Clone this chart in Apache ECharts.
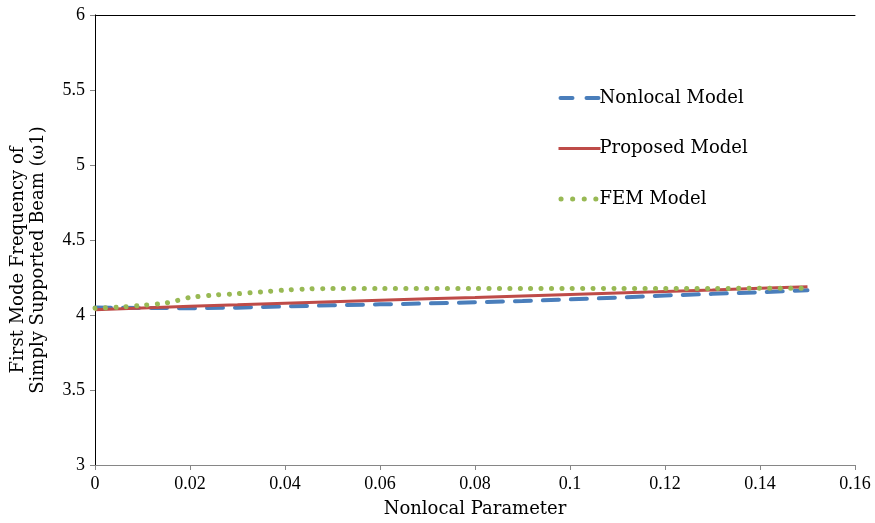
<!DOCTYPE html>
<html><head><meta charset="utf-8">
<script src="https://cdn.jsdelivr.net/npm/echarts@6/dist/echarts.min.js"></script>
<style>html,body{margin:0;padding:0;background:#fff}#c{width:875px;height:523px}</style>
</head><body><div id="c"></div>
<script>
const seriesNames = ['Nonlocal Model', 'Proposed Model', 'FEM Model'];
const xTicks = [0, 0.02, 0.04, 0.06, 0.08, 0.1, 0.12, 0.14, 0.16];
const nonlocalX = [0, 0.01, 0.02, 0.03, 0.04, 0.05, 0.06, 0.07, 0.08, 0.09, 0.1, 0.11, 0.12, 0.13, 0.14, 0.15];
const nonlocalY = [4.05, 4.047, 4.045, 4.049, 4.057, 4.065, 4.071, 4.077, 4.085, 4.093, 4.104, 4.116, 4.13, 4.141, 4.152, 4.165];
const proposedX = [0, 0.01, 0.02, 0.03, 0.04, 0.05, 0.06, 0.07, 0.08, 0.09, 0.1, 0.11, 0.12, 0.13, 0.14, 0.15];
const proposedY = [4.035, 4.047, 4.058, 4.068, 4.079, 4.089, 4.099, 4.108, 4.117, 4.127, 4.137, 4.147, 4.157, 4.167, 4.178, 4.189];
const femX = [0, 0.005, 0.01, 0.015, 0.02, 0.025, 0.03, 0.035, 0.04, 0.045, 0.05, 0.06, 0.07, 0.08, 0.09, 0.1, 0.11, 0.12, 0.13, 0.14, 0.15];
const femY = [4.045, 4.052, 4.065, 4.08, 4.117, 4.133, 4.142, 4.154, 4.166, 4.174, 4.176, 4.176, 4.176, 4.176, 4.176, 4.176, 4.177, 4.177, 4.177, 4.178, 4.178];

const pair = (xs, ys) => xs.map((x, i) => [x, ys[i]]);
const tickFont = '"Liberation Serif", serif';
const textFont = '"DejaVu Serif", serif';
const blueLine = { color: '#4a7ebb', width: 4, type: [16, 12], cap: 'round' };
const redLine = { color: '#be4b48', width: 3, type: 'solid' };
const greenLine = { color: '#98b954', width: 5, type: [0.1, 10.3], cap: 'round' };
const legendLines = [
  { color: '#4a7ebb', width: 4, type: [12, 14], dashOffset: -2, cap: 'round' },
  { color: '#be4b48', width: 3, type: 'solid' },
  { color: '#98b954', width: 5, type: [0.1, 11.5], dashOffset: -2.5, cap: 'round' }
];
const chart = echarts.init(document.getElementById('c'));
chart.setOption({
  animation: false,
  backgroundColor: '#fff',
  grid: { left: 93, right: 20, top: 15, bottom: 57 },
  legend: {
    orient: 'vertical', left: 551, top: 84, itemGap: 32.5, itemWidth: 42, itemHeight: 14,
    textStyle: { fontFamily: textFont, fontSize: 18, color: '#000', padding: [0, 0, 0, -6] },
    itemStyle: { opacity: 0 },
    data: seriesNames.map((n, i) => ({ name: n, itemStyle: { opacity: 0 }, lineStyle: legendLines[i] }))
  },
  xAxis: [{
    type: 'value', min: 0, max: 0.16, interval: 0.02,
    name: 'Nonlocal Parameter', nameLocation: 'middle', nameGap: 35,
    nameTextStyle: { fontFamily: textFont, fontSize: 18, color: '#000' },
    axisLine: { show: true, lineStyle: { color: '#868686', width: 1 } },
    axisTick: { show: true, length: 5, lineStyle: { color: '#868686' } },
    axisLabel: { fontFamily: tickFont, fontSize: 18, color: '#000', margin: 10,
      formatter: v => String(+v.toFixed(2)) },
    splitLine: { show: false }
  }, {
    type: 'value', min: 0, max: 0.16, position: 'top',
    axisLine: { show: true, lineStyle: { color: '#000', width: 1 } },
    axisTick: { show: false }, axisLabel: { show: false }, splitLine: { show: false }
  }],
  yAxis: [{
    type: 'value', min: 3, max: 6, interval: 0.5,
    name: 'First Mode Frequency of\nSimply Supported Beam (ω1)', nameLocation: 'middle', nameGap: 47,
    nameTextStyle: { fontFamily: textFont, fontSize: 18, color: '#000', lineHeight: 20, padding: [0, 40, 0, 0] },
    axisLine: { show: true, lineStyle: { color: '#868686', width: 1 } },
    axisTick: { show: true, length: 5, lineStyle: { color: '#868686' } },
    axisLabel: { fontFamily: tickFont, fontSize: 18, color: '#000', margin: 10 },
    splitLine: { show: false }
  }, {
    type: 'value', min: 3, max: 6, position: 'right',
    axisLine: { show: true, lineStyle: { color: '#000', width: 1 } },
    axisTick: { show: false }, axisLabel: { show: false }, splitLine: { show: false }
  }],
  series: [{
    name: seriesNames[0], type: 'line', data: pair(nonlocalX, nonlocalY),
    showSymbol: false, symbol: 'none', z: 3,
    itemStyle: { color: '#4a7ebb' }, lineStyle: blueLine
  }, {
    name: seriesNames[1], type: 'line', data: pair(proposedX, proposedY),
    showSymbol: false, symbol: 'none', z: 4,
    itemStyle: { color: '#be4b48' }, lineStyle: redLine
  }, {
    name: seriesNames[2], type: 'line', data: pair(femX, femY),
    showSymbol: false, symbol: 'none', smooth: 0.3, z: 5,
    itemStyle: { color: '#98b954' }, lineStyle: greenLine
  }]
});
</script></body></html>
